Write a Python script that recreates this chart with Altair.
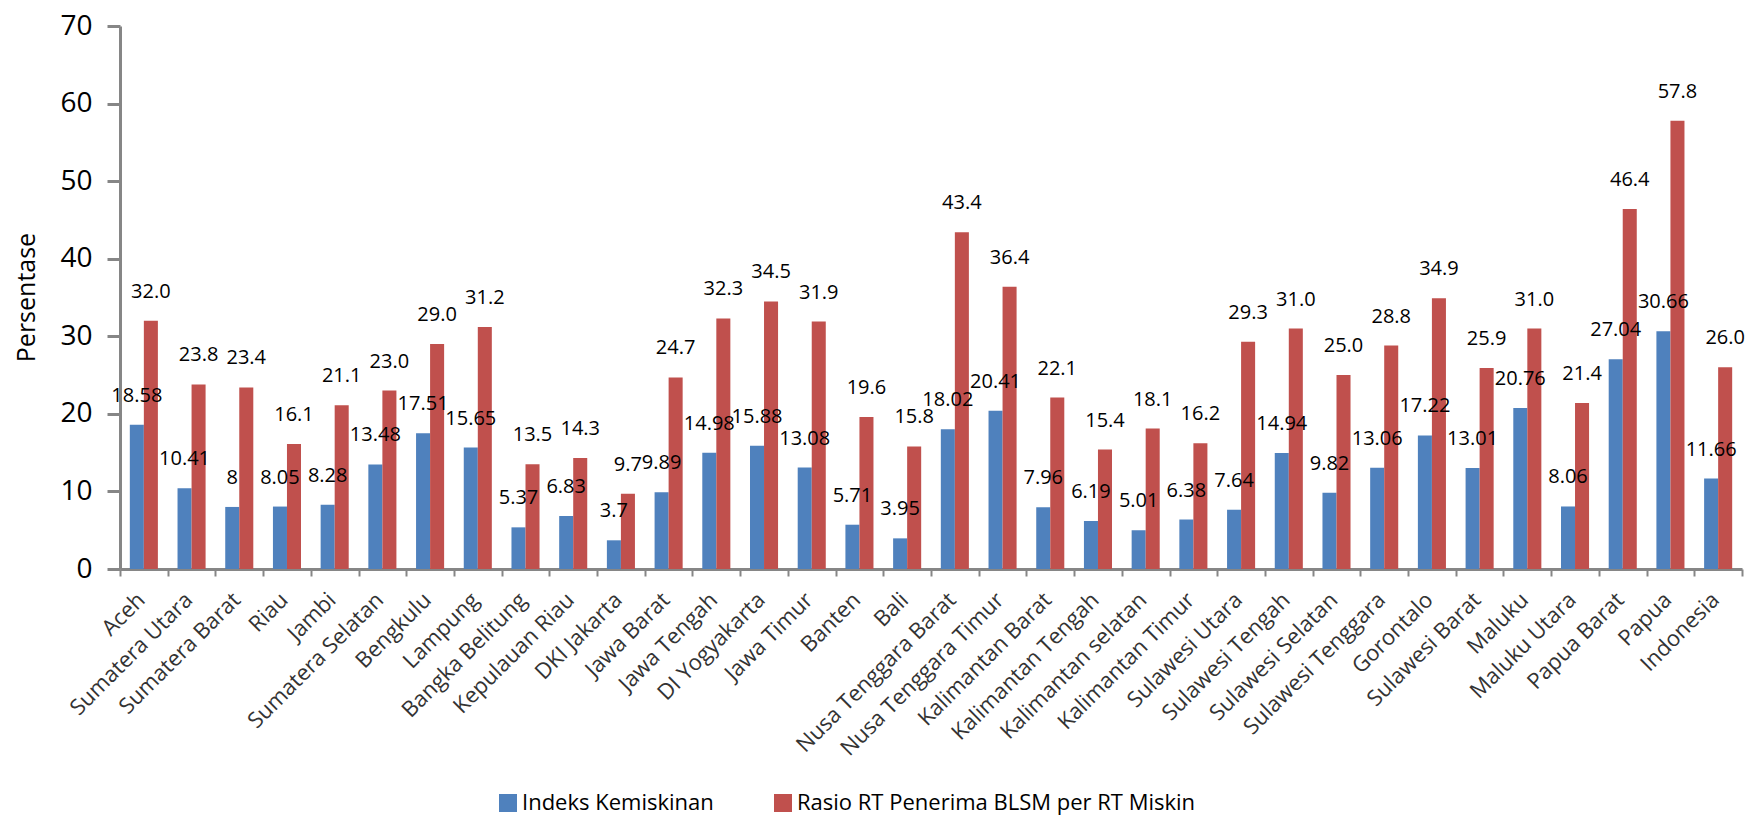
import altair as alt
import pandas as pd

provinces = [
    "Aceh", "Sumatera Utara", "Sumatera Barat", "Riau", "Jambi", "Sumatera Selatan",
    "Bengkulu", "Lampung", "Bangka Belitung", "Kepulauan Riau", "DKI Jakarta",
    "Jawa Barat", "Jawa Tengah", "DI Yogyakarta", "Jawa Timur", "Banten", "Bali",
    "Nusa Tenggara Barat", "Nusa Tenggara Timur", "Kalimantan Barat",
    "Kalimantan Tengah", "Kalimantan selatan", "Kalimantan Timur", "Sulawesi Utara",
    "Sulawesi Tengah", "Sulawesi Selatan", "Sulawesi Tenggara", "Gorontalo",
    "Sulawesi Barat", "Maluku", "Maluku Utara", "Papua Barat", "Papua", "Indonesia",
]
indeks = [
    18.58, 10.41, 8, 8.05, 8.28, 13.48, 17.51, 15.65, 5.37, 6.83, 3.7, 9.89, 14.98,
    15.88, 13.08, 5.71, 3.95, 18.02, 20.41, 7.96, 6.19, 5.01, 6.38, 7.64, 14.94, 9.82,
    13.06, 17.22, 13.01, 20.76, 8.06, 27.04, 30.66, 11.66,
]
rasio = [
    32.0, 23.8, 23.4, 16.1, 21.1, 23.0, 29.0, 31.2, 13.5, 14.3, 9.7, 24.7, 32.3, 34.5,
    31.9, 19.6, 15.8, 43.4, 36.4, 22.1, 15.4, 18.1, 16.2, 29.3, 31.0, 25.0, 28.8, 34.9,
    25.9, 31.0, 21.4, 46.4, 57.8, 26.0,
]
series_names = ["Indeks Kemiskinan", "Rasio RT Penerima BLSM per RT Miskin"]
colors = ["#4F81BD", "#C0504D"]
y_ticks = [0, 10, 20, 30, 40, 50, 60, 70]

rows = []
for p, a, b in zip(provinces, indeks, rasio):
    rows.append({"prov": p, "series": series_names[0], "value": a, "label": f"{a:g}"})
    rows.append({"prov": p, "series": series_names[1], "value": b, "label": f"{b:.1f}"})
df = pd.DataFrame(rows)

FONT = "Open Sans"
AXIS_GRAY = "#868686"

x_enc = alt.X(
    "prov:N", sort=provinces, title=None,
    scale=alt.Scale(paddingInner=0, paddingOuter=0),
    axis=alt.Axis(
        labelAngle=-45, labelAlign="right", labelBaseline="middle",
        labelFont=FONT, labelFontSize=22, labelColor="#333333",
        labelPadding=20, labelOffset=-3, labelLimit=500, labelOverlap=False,
        tickBand="extent", tickSize=7, tickWidth=2, tickColor=AXIS_GRAY,
        domainColor=AXIS_GRAY, domainWidth=3, grid=False,
    ),
)
xoff_enc = alt.XOffset(
    "series:N", sort=series_names,
    scale=alt.Scale(paddingOuter=0.7, paddingInner=0),
)
y_enc = alt.Y(
    "value:Q",
    scale=alt.Scale(domain=[0, 70], nice=False),
    axis=alt.Axis(
        values=y_ticks, title="Persentase", grid=False,
        titleFont=FONT, titleFontSize=25, titleFontWeight="normal", titleColor="black",
        titleX=-94, titleY=271, titleAlign="center", titleBaseline="middle",
        labelFont=FONT, labelFontSize=28, labelColor="black", labelPadding=15,
        tickSize=13, tickWidth=3, tickColor=AXIS_GRAY,
        domainColor=AXIS_GRAY, domainWidth=3,
    ),
)
color_enc = alt.Color(
    "series:N", sort=series_names,
    scale=alt.Scale(domain=series_names, range=colors),
    legend=alt.Legend(
        title=None, orient="none", direction="horizontal",
        legendX=377, legendY=766, padding=0,
        symbolType="square", symbolSize=324, symbolStrokeWidth=0,
        labelFont=FONT, labelFontSize=22, labelColor="black", labelLimit=800,
        labelOffset=3, columnPadding=58,
    ),
)

bars = alt.Chart(df).mark_bar().encode(x=x_enc, xOffset=xoff_enc, y=y_enc, color=color_enc)
labels = alt.Chart(df).mark_text(
    font=FONT, fontSize=20, baseline="alphabetic", dy=-23, color="black"
).encode(x=x_enc, xOffset=xoff_enc, y=y_enc, text="label:N")

chart = alt.layer(bars, labels).properties(
    width=1622, height=543,
    padding={"left": 112, "top": 18, "right": 8, "bottom": 250},
    autosize=alt.AutoSizeParams(type="none"),
).configure_view(stroke=None)

chart.save("out.html", embed_options={"renderer": "svg", "actions": False})
